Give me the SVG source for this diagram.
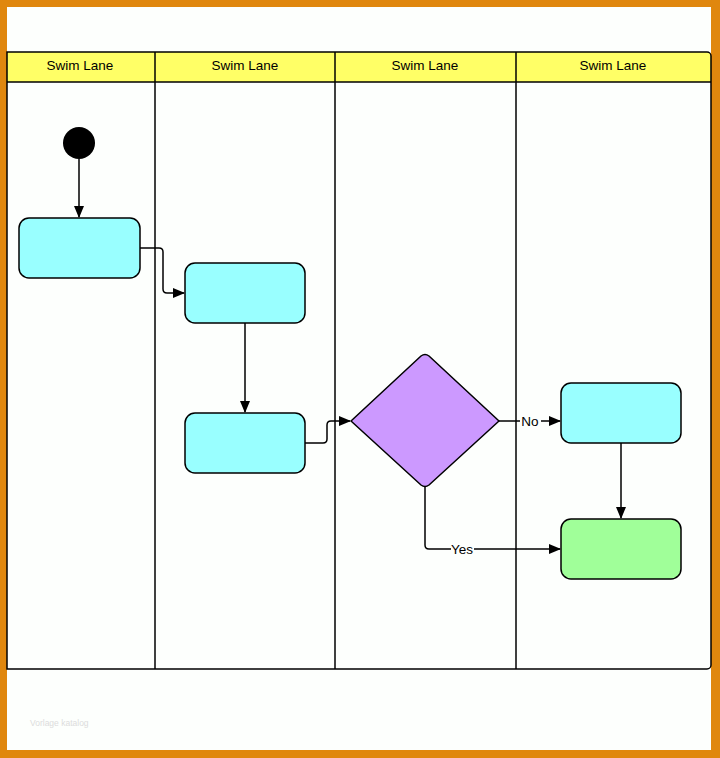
<svg xmlns="http://www.w3.org/2000/svg" width="720" height="758" viewBox="0 0 720 758">
<defs>
<style>
.lane{fill:none;stroke:#000;stroke-width:1.5}
.hdr{fill:#ffff66}
.t{font-family:"Liberation Sans",Arial,sans-serif;font-size:13.5px;fill:#000;text-anchor:middle}
.box{fill:#99ffff;stroke:#000;stroke-width:1.5}
.edge{fill:none;stroke:#000;stroke-width:1.5}
.lbl{font-family:"Liberation Sans",Arial,sans-serif;font-size:13.5px;fill:#000;text-anchor:middle}
</style>
<marker id="ah" markerWidth="12" markerHeight="10" refX="11" refY="5" orient="auto" markerUnits="userSpaceOnUse">
<path d="M0,0 L12,5 L0,10 z" fill="#000"/>
</marker>
</defs>
<rect x="0" y="0" width="720" height="758" fill="#e0870e"/>
<rect x="7" y="7" width="704" height="743" fill="#fdfffd"/>
<g id="lanes">
<path class="hdr" d="M7,52 H707 a4,4 0 0 1 4,4 V82 H7 Z"/>
<path class="lane" d="M7,52 H707 a4,4 0 0 1 4,4 V665 a4,4 0 0 1 -4,4 H7 Z"/>
<line class="lane" x1="7" y1="82" x2="711" y2="82"/>
<line class="lane" x1="155" y1="52" x2="155" y2="669"/>
<line class="lane" x1="335" y1="52" x2="335" y2="669"/>
<line class="lane" x1="516" y1="52" x2="516" y2="669"/>
<text class="t" x="80" y="70">Swim Lane</text>
<text class="t" x="245" y="70">Swim Lane</text>
<text class="t" x="425" y="70">Swim Lane</text>
<text class="t" x="613" y="70">Swim Lane</text>
</g>
<g id="connectors">
<line class="edge" x1="79" y1="159" x2="79" y2="217" marker-end="url(#ah)"/>
<path class="edge" d="M140,248 H159 Q163,248 163,252 V289 Q163,293 167,293 H184" marker-end="url(#ah)"/>
<line class="edge" x1="245" y1="323" x2="245" y2="412" marker-end="url(#ah)"/>
<path class="edge" d="M305,443 H323 Q327,443 327,439 V425 Q327,421 331,421 H350" marker-end="url(#ah)"/>
<line class="edge" x1="499" y1="421" x2="520" y2="421"/>
<line class="edge" x1="541" y1="421" x2="560" y2="421" marker-end="url(#ah)"/>
<text class="lbl" x="530" y="426">No</text>
<line class="edge" x1="621" y1="443" x2="621" y2="518" marker-end="url(#ah)"/>
<path class="edge" d="M425,487 V545 Q425,549 429,549 H451"/>
<line class="edge" x1="474" y1="549" x2="560" y2="549" marker-end="url(#ah)"/>
<text class="lbl" x="462" y="554">Yes</text>
</g>
<g id="start"><circle cx="79" cy="143" r="16" fill="#000"/></g>
<g id="box1"><rect class="box" x="19" y="218" width="121" height="60" rx="10"/></g>
<g id="box2"><rect class="box" x="185" y="263" width="120" height="60" rx="10"/></g>
<g id="box3"><rect class="box" x="185" y="413" width="120" height="60" rx="10"/></g>
<g id="decision"><path d="M351,421 L421,356 Q425,353 429,356 L499,421 L429,485 Q425,488 421,485 Z" fill="#cc99ff" stroke="#000" stroke-width="1.5" stroke-linejoin="round"/></g>
<g id="box4"><rect class="box" x="561" y="383" width="120" height="60" rx="10"/></g>
<g id="box5"><rect x="561" y="519" width="120" height="60" rx="10" fill="#a0ff99" stroke="#000" stroke-width="1.5"/></g>
<text x="30" y="726" font-family="Liberation Sans, Arial, sans-serif" font-size="8.5" fill="#dcdcdc">Vorlage katalog</text>
</svg>
